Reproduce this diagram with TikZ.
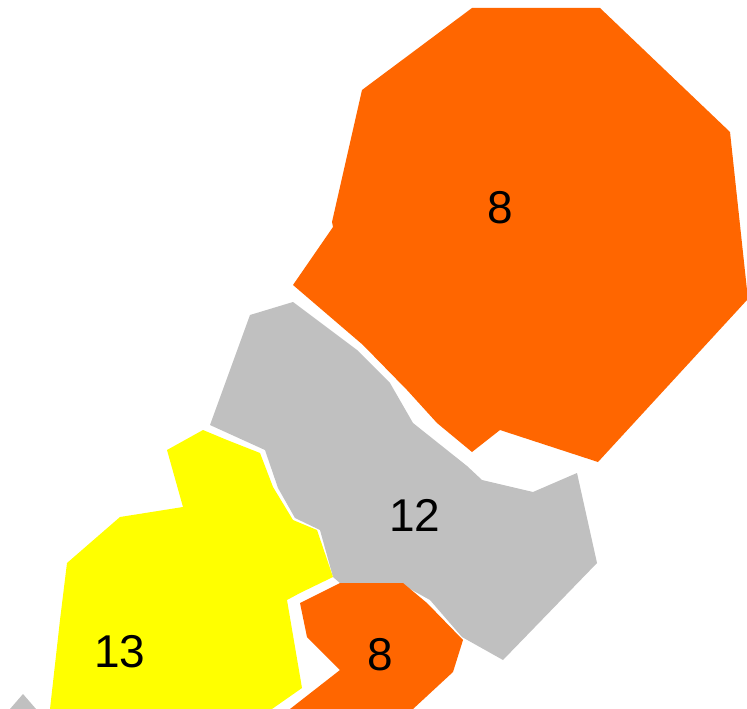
\documentclass[tikz,border=0pt]{standalone}
\usepackage{fontspec}
\setmainfont{Liberation Sans}
\definecolor{regorange}{HTML}{FF6600}
\definecolor{reggray}{HTML}{C0C0C0}
\definecolor{regyellow}{HTML}{FFFF00}
\tikzset{
  region/.style={draw=none},
  num/.style={font=\fontsize{46}{50}\selectfont, text=black, inner sep=0pt}
}
\begin{document}
\begin{tikzpicture}[x=1pt,y=-1pt]
\useasboundingbox (0,0) rectangle (747,709);
\fill[white] (0,0) rectangle (747,709);
% big orange region
\fill[regorange,region] (472,8) -- (600,8) -- (730,132) -- (747,290) -- (747,300)
  -- (598,462) -- (500,430) -- (472,452) -- (437,423) -- (407,390) -- (363,345)
  -- (293,285) -- (333,227) -- (332,222) -- (362,90) -- cycle;
% gray region
\fill[reggray,region] (250,315) -- (293,302) -- (357,350) -- (390,383) -- (413,423)
  -- (467,466) -- (482,480) -- (533,492) -- (577,473) -- (597,563) -- (503,660)
  -- (462,637) -- (430,600) -- (403,585) -- (340,583) -- (333,577) -- (320,530)
  -- (295,518) -- (278,488) -- (265,450) -- (210,425) -- cycle;
% small gray tip
\fill[reggray,region] (23,694) -- (36,709) -- (10,709) -- cycle;
% yellow region
\fill[regyellow,region] (167,450) -- (203,430) -- (227,440) -- (260,453) -- (273,487)
  -- (293,520) -- (317,530) -- (333,577) -- (300,593) -- (287,600) -- (302,688)
  -- (272,709) -- (50,709) -- (60,620) -- (67,563) -- (120,517) -- (183,507) -- cycle;
% small orange region
\fill[regorange,region] (300,603) -- (340,583) -- (403,583) -- (427,603) -- (463,640)
  -- (453,672) -- (413,709) -- (290,709) -- (340,670) -- (307,637) -- cycle;
\node[num] (bigeight) at (500,208) {8};
\node[num] (twelve) at (415,515) {12};
\node[num] (thirteen) at (120,652) {13};
\node[num] (smalleight) at (380,655) {8};
\end{tikzpicture}
\end{document}
